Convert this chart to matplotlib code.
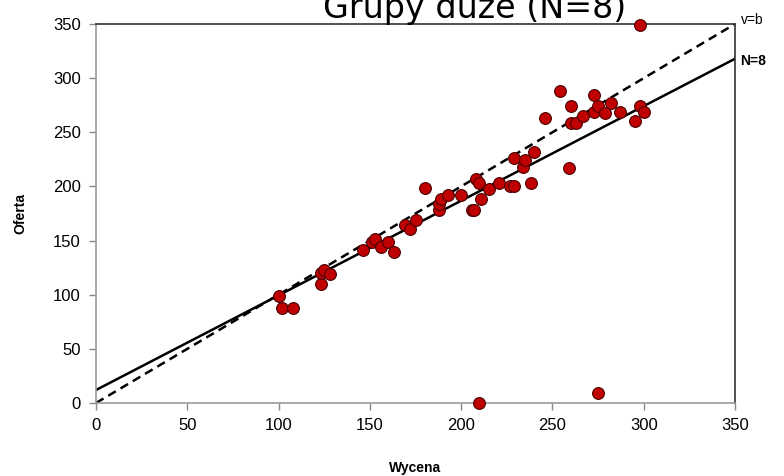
import numpy as np
import matplotlib.pyplot as plt
import matplotlib as mpl

mpl.rc("font", family=["Liberation Sans", "DejaVu Sans"])

# data
wycena = [100, 102, 108, 123, 123, 125, 128, 146, 151, 153, 156, 160, 163,
          169, 172, 175, 180, 188, 188, 189, 193, 200, 206, 207, 208, 210,
          211, 215, 221, 227, 229, 229, 234, 235, 238, 240, 246, 254, 259,
          260, 260, 263, 267, 273, 273, 275, 279, 282, 287, 295, 298, 300,
          298, 210, 275]
oferta = [99, 88, 88, 110, 120, 123, 119, 141, 149, 151, 144, 149, 139,
          164, 161, 169, 199, 178, 184, 188, 192, 192, 178, 178, 207, 203,
          188, 198, 203, 200, 200, 226, 218, 224, 203, 232, 263, 288, 217,
          259, 274, 259, 265, 284, 269, 274, 268, 277, 269, 260, 274, 269,
          349, 0, 9]

trend_a = 12.0      # intercept of the N=8 fit
trend_b = 0.874     # slope of the N=8 fit
x_line = [0, 350]

fig = plt.figure(figsize=(7.84, 4.76), dpi=100)
ax = fig.add_axes([96 / 784, 1 - 403 / 476, 639 / 784, 379 / 476])

ax.plot(x_line, x_line, color="black", lw=1.8, ls=(0, (3.5, 2.2)), zorder=2)
ax.plot(x_line, [trend_a + trend_b * v for v in x_line], color="black", lw=1.8, zorder=2)
ax.scatter(wycena, oferta, s=72, color="#c00000", edgecolor="#4a0000",
           linewidth=0.8, zorder=3, clip_on=False)

ax.set_xlim(0, 350)
ax.set_ylim(0, 350)
ax.set_xticks(range(0, 351, 50))
ax.set_yticks(range(0, 351, 50))
ax.tick_params(labelsize=12, color="#888888", length=5, width=1, pad=6)
for s in ["left", "bottom"]:
    ax.spines[s].set_color("#999999")
    ax.spines[s].set_linewidth(1.2)
for s in ["top", "right"]:
    ax.spines[s].set_color("#333333")
    ax.spines[s].set_linewidth(1.2)

ax.set_xlabel("Wycena", fontsize=10, fontweight="bold", labelpad=20)
ax.set_ylabel("Oferta", fontsize=10, fontweight="bold", labelpad=18)

ax.text(353, 354, "v=b", fontsize=10, va="center", ha="left", clip_on=False)
ax.text(353, 316, "N=8", fontsize=10, fontweight="bold", va="center", ha="left", clip_on=False)

# title sits partly above the top edge, as in the original
fig.text(475 / 784, 1 - 18 / 476, "Grupy duże (N=8)", fontsize=24,
         family="DejaVu Sans", ha="center", va="baseline")

plt.savefig("out.png", dpi=100)
